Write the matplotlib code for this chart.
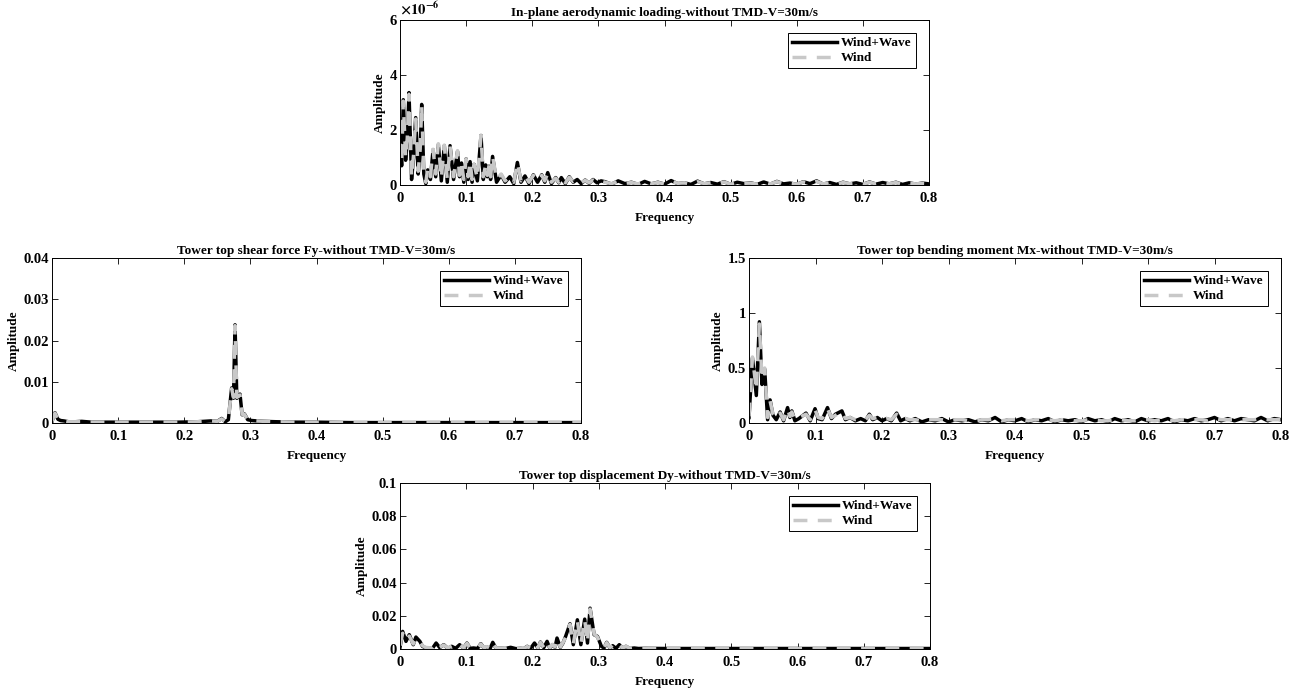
import matplotlib
matplotlib.use("Agg")
import matplotlib.pyplot as plt

plt.rcParams['font.family'] = ['Liberation Serif', 'DejaVu Serif']
plt.rcParams['font.weight'] = 'bold'
plt.rcParams['mathtext.fontset'] = 'stix'

# ---------------- In-plane aerodynamic loading (x1e-6) ----------------
freq_load = [0, 0.0025, 0.005, 0.0085, 0.011, 0.0136, 0.0175, 0.0205, 0.0237, 0.0275,
             0.0305, 0.0328, 0.036, 0.039, 0.042, 0.046, 0.05, 0.054, 0.058, 0.0625,
             0.067, 0.0715, 0.0757, 0.081, 0.087, 0.09, 0.093, 0.0965, 0.1, 0.103,
             0.106, 0.109, 0.112, 0.117, 0.1225, 0.126, 0.1296, 0.132, 0.1346, 0.137,
             0.14, 0.146, 0.153, 0.159, 0.166, 0.172, 0.1775, 0.183, 0.189, 0.195,
             0.2017, 0.208, 0.2143, 0.219, 0.2234, 0.229, 0.2355, 0.24, 0.244, 0.25,
             0.256, 0.262, 0.268, 0.274, 0.28, 0.286, 0.292, 0.298, 0.304,
             0.31, 0.32, 0.33, 0.34, 0.35, 0.36, 0.37, 0.38, 0.39, 0.40,
             0.41, 0.42, 0.43, 0.44, 0.45, 0.46, 0.47, 0.48, 0.49, 0.50,
             0.51, 0.52, 0.53, 0.54, 0.55, 0.56, 0.57, 0.58, 0.59, 0.60,
             0.61, 0.62, 0.63, 0.64, 0.65, 0.66, 0.67, 0.68, 0.69, 0.70,
             0.71, 0.72, 0.73, 0.74, 0.75, 0.76, 0.77, 0.78, 0.79, 0.80]
load_windwave = [1.5, 0.7, 3.1, 0.9, 1.6, 3.36, 0.2, 1.0, 2.45, 0.4,
                 1.2, 2.93, 0.4, 0.05, 0.55, 0.2, 1.28, 0.3, 1.47, 0.15,
                 1.43, 0.1, 1.43, 0.2, 1.22, 0.3, 0.8, 0.1, 0.95, 0.2,
                 0.85, 0.1, 0.75, 0.15, 1.8, 0.2, 0.73, 0.3, 0.7, 0.2,
                 1.04, 0.1, 0.37, 0.1, 0.3, 0.05, 0.82, 0.1, 0.33, 0.05,
                 0.37, 0.1, 0.37, 0.1, 0.45, 0.05, 0.27, 0.08, 0.27, 0.05,
                 0.3, 0.1, 0.2, 0.05, 0.18, 0.06, 0.2, 0.08, 0.15,
                 0.12, 0.03, 0.15, 0.05, 0.10, 0.02, 0.13, 0.04, 0.10, 0.03,
                 0.16, 0.05, 0.08, 0.02, 0.14, 0.04, 0.09, 0.03, 0.12, 0.02,
                 0.10, 0.05, 0.08, 0.02, 0.11, 0.03, 0.13, 0.04, 0.07, 0.02,
                 0.12, 0.05, 0.15, 0.03, 0.09, 0.02, 0.10, 0.04, 0.08, 0.02,
                 0.11, 0.03, 0.09, 0.04, 0.10, 0.02, 0.08, 0.03, 0.07, 0.04]
load_wind = [1.5, 0.8, 3.05, 1.0, 1.7, 3.3, 0.3, 1.1, 2.4, 0.5,
             1.3, 2.9, 0.5, 0.1, 0.6, 0.3, 1.3, 0.4, 1.5, 0.25,
             1.45, 0.2, 1.4, 0.3, 1.25, 0.35, 0.8, 0.2, 0.95, 0.3,
             0.85, 0.2, 0.75, 0.25, 1.8, 0.3, 0.75, 0.35, 0.7, 0.3,
             1.05, 0.2, 0.4, 0.15, 0.3, 0.1, 0.8, 0.15, 0.35, 0.1,
             0.35, 0.15, 0.35, 0.15, 0.43, 0.1, 0.25, 0.1, 0.28, 0.08,
             0.28, 0.12, 0.2, 0.08, 0.17, 0.08, 0.18, 0.1, 0.14,
             0.10, 0.05, 0.13, 0.06, 0.09, 0.04, 0.12, 0.05, 0.09, 0.04,
             0.14, 0.06, 0.08, 0.03, 0.12, 0.05, 0.08, 0.04, 0.11, 0.03,
             0.09, 0.06, 0.07, 0.03, 0.10, 0.04, 0.12, 0.05, 0.06, 0.03,
             0.11, 0.06, 0.13, 0.04, 0.08, 0.03, 0.09, 0.05, 0.07, 0.03,
             0.10, 0.04, 0.08, 0.05, 0.09, 0.03, 0.07, 0.04, 0.06, 0.05]

# ---------------- Tower top shear force Fy ----------------
freq_fy = [0, 0.0045, 0.009, 0.013, 0.018, 0.025, 0.035, 0.045, 0.06, 0.08,
           0.1, 0.13, 0.16, 0.19, 0.22, 0.24, 0.25, 0.2566, 0.262, 0.2667,
           0.2717, 0.2745, 0.2768, 0.2795, 0.2815, 0.2843, 0.2875, 0.291, 0.296, 0.302,
           0.31, 0.32, 0.34, 0.37, 0.4, 0.45, 0.5, 0.55, 0.6, 0.65,
           0.7, 0.75, 0.8]
fy_windwave = [0.0004, 0.0025, 0.0009, 0.0006, 0.0005, 0.0003, 0.0003, 0.0004, 0.0002, 0.0002,
               0.0002, 0.0002, 0.0002, 0.0002, 0.0003, 0.0005, 0.0004, 0.0011, 0.0003, 0.0008,
               0.0085, 0.006, 0.0238, 0.006, 0.0065, 0.007, 0.002, 0.0022, 0.0008, 0.0006,
               0.0005, 0.0004, 0.0003, 0.0002, 0.0002, 0.0001, 0.0001, 0.0001, 0.0001, 0.0001,
               0.0001, 0.0001, 0.0001]
fy_wind = [0.0004, 0.0024, 0.0009, 0.0006, 0.0005, 0.0003, 0.0003, 0.0003, 0.0002, 0.0002,
           0.0002, 0.0002, 0.0002, 0.0002, 0.0003, 0.0005, 0.0004, 0.0010, 0.0003, 0.0008,
           0.0083, 0.0062, 0.0236, 0.0062, 0.0064, 0.0068, 0.0021, 0.0021, 0.0008, 0.0006,
           0.0005, 0.0004, 0.0003, 0.0002, 0.0002, 0.0001, 0.0001, 0.0001, 0.0001, 0.0001,
           0.0001, 0.0001, 0.0001]

# ---------------- Tower top bending moment Mx ----------------
freq_mx = [0, 0.0052, 0.011, 0.0156, 0.0195, 0.0236, 0.028, 0.0317, 0.036, 0.041,
           0.0468, 0.052, 0.058, 0.0615, 0.0644, 0.069, 0.075, 0.0857, 0.092, 0.0993,
           0.104, 0.11, 0.118, 0.124, 0.13, 0.1397, 0.145, 0.152, 0.16, 0.168,
           0.175, 0.181, 0.186, 0.193, 0.2, 0.207, 0.214, 0.222, 0.228, 0.235,
           0.242, 0.25, 0.26, 0.27, 0.28, 0.29, 0.30, 0.31, 0.32, 0.33,
           0.34, 0.35, 0.36, 0.37, 0.38, 0.39, 0.40, 0.41, 0.42, 0.43,
           0.44, 0.45, 0.46, 0.47, 0.48, 0.49, 0.50, 0.51, 0.52, 0.53,
           0.54, 0.55, 0.56, 0.57, 0.58, 0.59, 0.60, 0.61, 0.62, 0.63,
           0.64, 0.65, 0.66, 0.67, 0.68, 0.69, 0.70, 0.71, 0.72, 0.73,
           0.74, 0.75, 0.76, 0.77, 0.78, 0.79, 0.80]
mx_windwave = [0.05, 0.59, 0.25, 0.92, 0.35, 0.49, 0.03, 0.21, 0.07, 0.03,
               0.10, 0.02, 0.14, 0.05, 0.11, 0.02, 0.04, 0.09, 0.02, 0.13,
               0.04, 0.03, 0.14, 0.04, 0.08, 0.11, 0.03, 0.05, 0.02, 0.04,
               0.02, 0.08, 0.03, 0.05, 0.02, 0.04, 0.02, 0.09, 0.02, 0.04,
               0.02, 0.04, 0.01, 0.03, 0.02, 0.04, 0.01, 0.03, 0.02, 0.03,
               0.01, 0.03, 0.02, 0.05, 0.01, 0.03, 0.02, 0.04, 0.01, 0.03,
               0.02, 0.04, 0.01, 0.03, 0.02, 0.03, 0.01, 0.04, 0.02, 0.03,
               0.01, 0.04, 0.02, 0.03, 0.01, 0.04, 0.02, 0.03, 0.02, 0.04,
               0.01, 0.03, 0.02, 0.04, 0.02, 0.03, 0.05, 0.02, 0.04, 0.02,
               0.04, 0.03, 0.02, 0.05, 0.02, 0.04, 0.03]
mx_wind = [0.06, 0.6, 0.3, 0.9, 0.4, 0.5, 0.05, 0.2, 0.08, 0.04,
           0.09, 0.03, 0.13, 0.06, 0.1, 0.03, 0.05, 0.08, 0.03, 0.12,
           0.05, 0.04, 0.13, 0.05, 0.07, 0.10, 0.04, 0.05, 0.03, 0.04,
           0.03, 0.07, 0.04, 0.05, 0.03, 0.04, 0.03, 0.08, 0.03, 0.04,
           0.03, 0.03, 0.02, 0.03, 0.03, 0.03, 0.02, 0.03, 0.03, 0.02,
           0.02, 0.03, 0.03, 0.04, 0.02, 0.03, 0.03, 0.03, 0.02, 0.03,
           0.03, 0.03, 0.02, 0.03, 0.03, 0.02, 0.02, 0.03, 0.03, 0.02,
           0.02, 0.03, 0.03, 0.02, 0.02, 0.03, 0.03, 0.02, 0.03, 0.03,
           0.02, 0.03, 0.03, 0.03, 0.03, 0.02, 0.04, 0.03, 0.03, 0.03,
           0.03, 0.03, 0.03, 0.04, 0.03, 0.03, 0.03]

# ---------------- Tower top displacement Dy ----------------
freq_dy = [0, 0.004, 0.009, 0.014, 0.02, 0.024, 0.03, 0.034, 0.038, 0.043,
           0.049, 0.0545, 0.06, 0.066, 0.072, 0.078, 0.084, 0.09, 0.096, 0.101,
           0.106, 0.111, 0.117, 0.122, 0.127, 0.131, 0.136, 0.14, 0.145, 0.151,
           0.159, 0.167, 0.175, 0.182, 0.187, 0.192, 0.197, 0.203, 0.208, 0.212,
           0.217, 0.222, 0.226, 0.23, 0.234, 0.237, 0.242, 0.246, 0.25, 0.2566,
           0.2616, 0.2677, 0.273, 0.2788, 0.283, 0.2869, 0.293, 0.298, 0.304, 0.308,
           0.312, 0.317, 0.321, 0.326, 0.331, 0.336, 0.341, 0.347, 0.3535, 0.36,
           0.37, 0.4, 0.45, 0.5, 0.55, 0.6, 0.65, 0.7, 0.75, 0.8]
dy_windwave = [0.001, 0.0106, 0.0046, 0.0086, 0.0026, 0.0072, 0.0046, 0.0016, 0.0008, 0.0006,
               0.0004, 0.0036, 0.0008, 0.0026, 0.0004, 0.0016, 0.0004, 0.0026, 0.0006, 0.0036,
               0.0004, 0.0006, 0.0003, 0.0032, 0.0004, 0.0012, 0.0003, 0.004, 0.0004, 0.0005,
               0.0003, 0.001, 0.0002, 0.0004, 0.0002, 0.0016, 0.0003, 0.0036, 0.0006, 0.0042,
               0.0008, 0.0046, 0.0006, 0.0026, 0.001, 0.0066, 0.001, 0.0036, 0.0076, 0.0152,
               0.0026, 0.0176, 0.0026, 0.018, 0.0036, 0.0246, 0.0086, 0.0076, 0.0016, 0.0006,
               0.004, 0.0006, 0.002, 0.0004, 0.0026, 0.0004, 0.0016, 0.0003, 0.0006, 0.0003,
               0.0004, 0.0003, 0.0003, 0.0003, 0.0003, 0.0003, 0.0003, 0.0003, 0.0003, 0.0003]
dy_wind = [0.002, 0.0095, 0.0052, 0.0078, 0.003, 0.0065, 0.004, 0.002, 0.001, 0.0008,
           0.0006, 0.0033, 0.001, 0.0024, 0.0006, 0.0018, 0.0006, 0.0024, 0.0008, 0.0034,
           0.0006, 0.0008, 0.0005, 0.003, 0.0006, 0.0014, 0.0005, 0.0038, 0.0006, 0.0006,
           0.0004, 0.001, 0.0003, 0.0005, 0.0003, 0.0015, 0.0004, 0.0034, 0.0008, 0.004,
           0.001, 0.0044, 0.0008, 0.0028, 0.0012, 0.006, 0.0012, 0.0038, 0.007, 0.0148,
           0.003, 0.017, 0.003, 0.0175, 0.004, 0.024, 0.009, 0.0072, 0.0018, 0.0008,
           0.0038, 0.0008, 0.0022, 0.0005, 0.0024, 0.0005, 0.0017, 0.0004, 0.0007, 0.0003,
           0.0004, 0.0003, 0.0003, 0.0003, 0.0003, 0.0003, 0.0003, 0.0003, 0.0003, 0.0003]

titles = ["In-plane aerodynamic loading-without TMD-V=30m/s",
          "Tower top shear force Fy-without TMD-V=30m/s",
          "Tower top bending moment Mx-without TMD-V=30m/s",
          "Tower top displacement Dy-without TMD-V=30m/s"]
series_labels = ["Wind+Wave", "Wind"]
xticks = [0, 0.1, 0.2, 0.3, 0.4, 0.5, 0.6, 0.7, 0.8]

FS = 9.5
TICK_FS = 10.5
fig = plt.figure(figsize=(13, 6.93), dpi=100)

W, H = 1300, 693
def px_axes(x0, y0, x1, y1):
    return fig.add_axes([x0 / W, 1 - y1 / H, (x1 - x0) / W, (y1 - y0) / H])

ax_load = px_axes(400, 20, 929, 185)
ax_fy = px_axes(52, 258, 581, 423)
ax_mx = px_axes(749, 258, 1281, 423)
ax_dy = px_axes(400, 483, 930, 649)

panels = [
    (ax_load, freq_load, [v * 1e-6 for v in load_windwave], [v * 1e-6 for v in load_wind],
     (0, 6e-6), [0, 2e-6, 4e-6, 6e-6], ['0', '2', '4', '6']),
    (ax_fy, freq_fy, fy_windwave, fy_wind, (0, 0.04), [0, 0.01, 0.02, 0.03, 0.04],
     ['0', '0.01', '0.02', '0.03', '0.04']),
    (ax_mx, freq_mx, mx_windwave, mx_wind, (0, 1.5), [0, 0.5, 1, 1.5],
     ['0', '0.5', '1', '1.5']),
    (ax_dy, freq_dy, dy_windwave, dy_wind, (0, 0.1), [0, 0.02, 0.04, 0.06, 0.08, 0.1],
     ['0', '0.02', '0.04', '0.06', '0.08', '0.1']),
]

for (ax, f, a_ww, a_w, ylim, yticks, ylabels), title in zip(panels, titles):
    ax.plot(f, a_ww, color='black', lw=2.5, solid_joinstyle='round', label=series_labels[0])
    ax.plot(f, a_w, color='#c8c8c8', lw=2.5, dashes=(4, 3), label=series_labels[1])
    ax.set_xlim(0, 0.8)
    ax.set_ylim(*ylim)
    ax.set_xticks(xticks)
    ax.set_xticklabels(['0', '0.1', '0.2', '0.3', '0.4', '0.5', '0.6', '0.7', '0.8'])
    ax.set_yticks(yticks)
    ax.set_yticklabels(ylabels)
    ax.tick_params(direction='in', top=True, right=True, length=4.5, width=0.6,
                   labelsize=TICK_FS)
    ax.tick_params(axis='x', pad=5)
    ax.tick_params(axis='y', pad=2)
    for lab in ax.get_xticklabels() + ax.get_yticklabels():
        lab.set_fontweight('bold')
    for sp in ax.spines.values():
        sp.set_linewidth(0.7)
    ax.set_title(title, fontsize=FS, fontweight='bold', pad=3)
    ax.set_xlabel('Frequency', fontsize=FS, fontweight='bold', labelpad=5)
    ax.set_ylabel('Amplitude', fontsize=FS, fontweight='bold', labelpad=3)
    leg = ax.legend(loc='upper right', fontsize=FS, frameon=True, fancybox=False,
                    framealpha=1, edgecolor='black', handlelength=3.4,
                    borderpad=0.3, labelspacing=0.2, handletextpad=0.3,
                    borderaxespad=1.0)
    leg.get_frame().set_linewidth(0.7)
    for t in leg.get_texts():
        t.set_fontweight('bold')

# scientific multiplier for the loading panel
ax_load.text(0.0, 1.015, r'$\times10^{-6}$', transform=ax_load.transAxes,
             fontsize=FS + 1, ha='left', va='bottom')

fig.savefig('out.png', dpi=100)
